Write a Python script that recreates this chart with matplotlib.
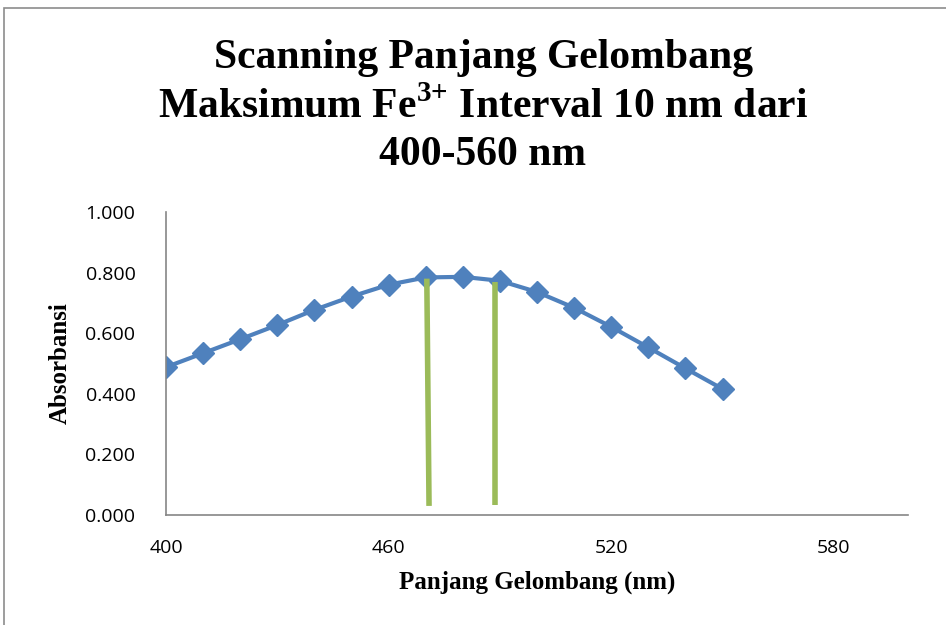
import matplotlib
matplotlib.use("Agg")
import matplotlib.pyplot as plt
from matplotlib.patches import Rectangle

# absorbance scan, Fe3+ 400-550 nm, 10 nm steps
wavelength = [400, 410, 420, 430, 440, 450, 460, 470, 480, 490, 500, 510, 520, 530, 540, 550]
absorbance = [0.488, 0.534, 0.580, 0.627, 0.677, 0.721, 0.760, 0.784, 0.786, 0.773,
              0.736, 0.684, 0.621, 0.553, 0.484, 0.416]

# the two green marker lines drawn on the chart (x top, x bottom, y top, y bottom)
marker_x_top = [470.3, 488.8]
marker_x_bottom = [470.9, 488.8]
marker_y_top = [0.780, 0.768]
marker_y_bottom = [0.030, 0.033]

xticks = [400, 460, 520, 580]
yticks = [0.0, 0.2, 0.4, 0.6, 0.8, 1.0]

plt.rcParams["mathtext.fontset"] = "custom"
plt.rcParams["mathtext.rm"] = "Liberation Serif:bold"
plt.rcParams["mathtext.bf"] = "Liberation Serif:bold"

fig = plt.figure(figsize=(9.46, 6.25), dpi=100)
W, H = 946, 625

# chart frame (only left and top edge show in the crop)
fig.patches.append(Rectangle((4 / W, -0.1), 1.2, 1.1 - 8 / H, transform=fig.transFigure,
                             fill=False, edgecolor="#8c8c8c", linewidth=1.2))

ax = fig.add_axes([166 / W, 110 / H, (908 - 166) / W, (515 - 212) / H])

for xt, xb, yt, yb in zip(marker_x_top, marker_x_bottom, marker_y_top, marker_y_bottom):
    ax.plot([xt, xb], [yt, yb], color="#9BBB59", linewidth=4, solid_capstyle="butt", zorder=3)

ax.plot(wavelength, absorbance, color="#4F81BD", linewidth=3, marker="D",
        markersize=11, markerfacecolor="#4F81BD", markeredgecolor="#4F81BD", zorder=2)

ax.set_xlim(400, 600)
ax.set_ylim(0, 1.0)
ax.set_xticks(xticks)
ax.set_yticks(yticks)
ax.set_yticklabels([f"{v:.3f}" for v in yticks])
ax.tick_params(length=0, labelsize=14, pad=17)
ax.tick_params(axis="y", pad=22)
for lab in ax.get_xticklabels() + ax.get_yticklabels():
    lab.set_fontfamily("Open Sans")

for s in ["top", "right"]:
    ax.spines[s].set_visible(False)
for s in ["left", "bottom"]:
    ax.spines[s].set_color("#868686")
    ax.spines[s].set_linewidth(1.2)

ax.set_xlabel("Panjang Gelombang (nm)", fontfamily="Liberation Serif", fontweight="bold",
              fontsize=18, labelpad=10)
ax.set_ylabel("Absorbansi", fontfamily="Liberation Serif", fontweight="bold",
              fontsize=18, labelpad=10)

title_kw = dict(ha="center", va="center", fontfamily="Liberation Serif",
                fontweight="bold", fontsize=30)
fig.text(483 / W, 1 - 58 / H, "Scanning Panjang Gelombang", **title_kw)
fig.text(483 / W, 1 - 107 / H, r"Maksimum Fe$^{3{+}}$ Interval 10 nm dari", **title_kw)
fig.text(483 / W, 1 - 155 / H, "400-560 nm", **title_kw)

fig.savefig("out.png", dpi=100)
